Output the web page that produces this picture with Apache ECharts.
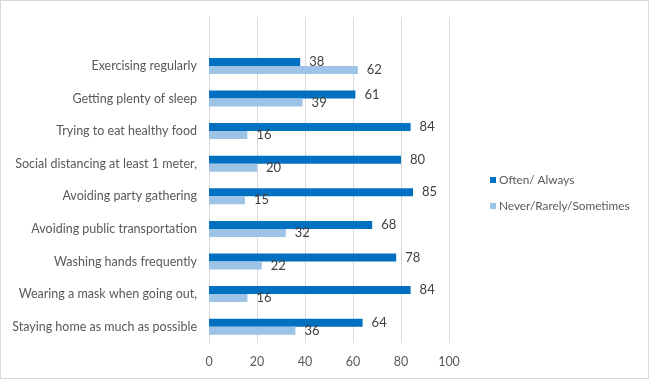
<!DOCTYPE html>
<html>
<head>
<meta charset="utf-8">
<script src="https://cdn.jsdelivr.net/npm/echarts@6/dist/echarts.min.js"></script>
<style>
html,body{margin:0;padding:0;background:#fff;}
#c{position:absolute;left:0;top:0;width:647px;height:377px;border:1px solid #d9d9d9;}
</style>
</head>
<body>
<div id="c"></div>
<script>
const categories = ["", "Exercising regularly", "Getting plenty of sleep", "Trying to eat healthy food", "Social distancing at least 1 meter,", "Avoiding party gathering", "Avoiding public transportation", "Washing hands frequently", "Wearing a mask when going out,", "Staying home as much as possible"];
const oftenAlways = [null, 38, 61, 84, 80, 85, 68, 78, 84, 64];
const neverRarelySometimes = [null, 62, 39, 16, 20, 15, 32, 22, 16, 36];
const xTicks = [0, 20, 40, 60, 80, 100];

const chart = echarts.init(document.getElementById('c'));
const font = "Lato, 'Open Sans', sans-serif";
const lbl = {show: true, position: 'right', distance: 9, color: '#404040', fontSize: 13, fontFamily: font};
chart.setOption({
  animation: false,
  textStyle: {fontFamily: font},
  grid: {left: 208, right: 199, top: 16, bottom: 35, containLabel: false, outerBoundsMode: 'none'},
  legend: {
    orient: 'vertical', left: 484, top: 168, itemWidth: 6, itemHeight: 6, itemGap: 14,
    icon: 'rect',
    textStyle: {color: '#595959', fontSize: 11.8, fontFamily: font, padding: [0, 0, 0, -2]},
    data: ['Often/ Always', 'Never/Rarely/Sometimes']
  },
  xAxis: {
    type: 'value', min: 0, max: 100, interval: 20,
    axisLine: {show: false}, axisTick: {show: false},
    splitLine: {lineStyle: {color: '#d9d9d9', width: 1}},
    axisLabel: {color: '#595959', fontSize: 12.5, margin: 12, formatter: v => xTicks.includes(v) ? String(v) : ''}
  },
  yAxis: {
    type: 'category', inverse: true, data: categories,
    axisLine: {show: true, lineStyle: {color: '#d9d9d9'}}, axisTick: {show: false},
    axisLabel: {color: '#595959', fontSize: 12.5, margin: 12}
  },
  series: [
    {name: 'Often/ Always', type: 'bar', data: oftenAlways, barWidth: 8, barGap: '0%',
     itemStyle: {color: '#0070C0'}, label: lbl},
    {name: 'Never/Rarely/Sometimes', type: 'bar', data: neverRarelySometimes, barWidth: 8, barGap: '0%',
     itemStyle: {color: '#9DC3E6'}, label: lbl}
  ]
});
</script>
</body>
</html>
